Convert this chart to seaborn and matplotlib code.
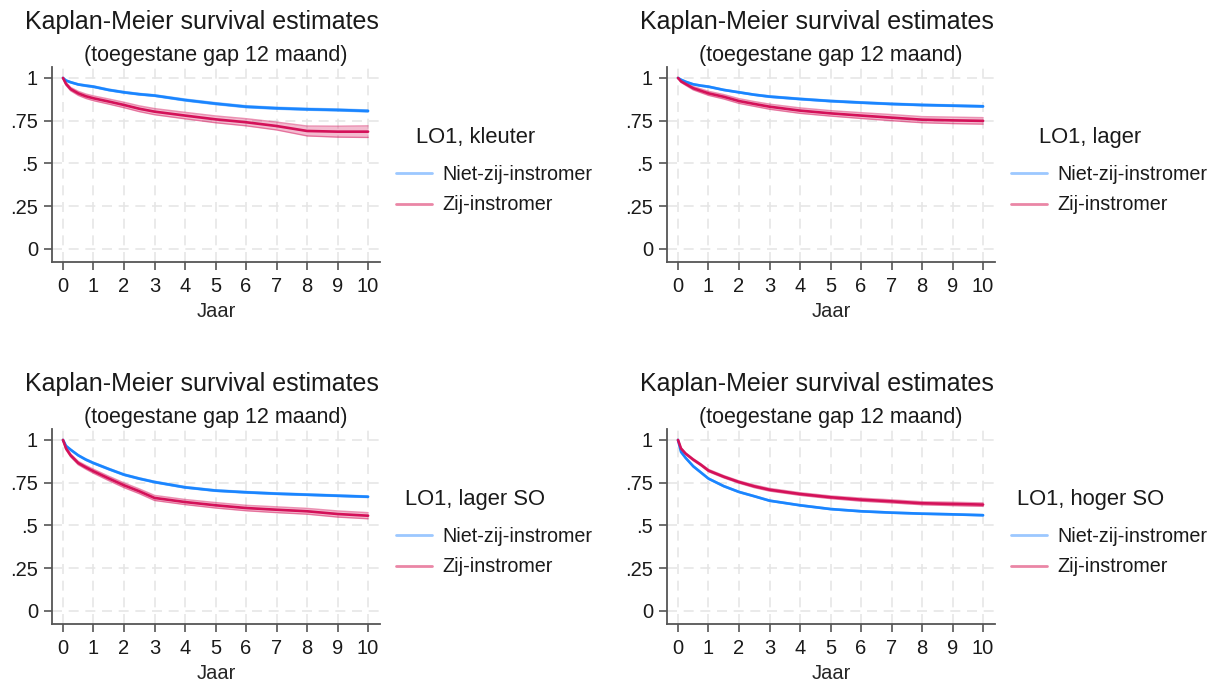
import numpy as np
import pandas as pd
import seaborn as sns
import matplotlib.pyplot as plt
from matplotlib.lines import Line2D

# Survival time grid (years)
years = [0, 0.1, 0.25, 0.5, 0.75, 1, 1.5, 2, 2.5, 3, 4, 5, 6, 7, 8, 9, 10]

groups = ["Niet-zij-instromer", "Zij-instromer"]
panel_titles = ["LO1, kleuter", "LO1, lager", "LO1, lager SO", "LO1, hoger SO"]

# Kaplan-Meier estimates per panel
kleuter_niet = [1, .985, .975, .962, .955, .949, .93, .916, .905, .897, .871, .85, .832, .823, .817, .813, .807]
kleuter_zij = [1, .965, .935, .91, .893, .881, .862, .842, .82, .803, .78, .758, .741, .719, .69, .686, .686]
lager_niet = [1, .99, .978, .963, .955, .949, .93, .916, .902, .891, .877, .865, .856, .848, .842, .838, .834]
lager_zij = [1, .98, .965, .94, .925, .91, .89, .865, .848, .832, .809, .793, .78, .768, .756, .752, .749]
lagerso_niet = [1, .965, .943, .91, .885, .865, .83, .797, .774, .754, .723, .704, .694, .686, .68, .674, .668]
lagerso_zij = [1, .95, .91, .865, .84, .817, .775, .735, .70, .661, .637, .618, .602, .592, .583, .567, .557]
hogerso_niet = [1, .93, .895, .846, .81, .774, .73, .696, .671, .645, .618, .596, .583, .575, .569, .565, .56]
hogerso_zij = [1, .95, .92, .885, .855, .821, .785, .754, .729, .709, .684, .665, .651, .641, .63, .626, .622]

# Half-widths of the 95% confidence bands
kleuter_niet_ci = [0, .003, .004, .004, .005, .005, .005, .005, .005, .005, .006, .006, .006, .006, .006, .006, .006]
kleuter_zij_ci = [0, .008, .010, .012, .013, .014, .015, .016, .017, .018, .019, .020, .021, .023, .029, .032, .034]
lager_niet_ci = [0, .002, .003, .003, .004, .004, .004, .004, .004, .005, .005, .005, .005, .005, .005, .005, .005]
lager_zij_ci = [0, .006, .008, .010, .011, .012, .013, .014, .014, .015, .016, .016, .017, .018, .018, .019, .019]
lagerso_niet_ci = [0, .003, .004, .004, .005, .005, .005, .005, .005, .005, .005, .005, .005, .005, .005, .005, .005]
lagerso_zij_ci = [0, .007, .009, .010, .011, .012, .013, .014, .014, .015, .015, .016, .016, .017, .017, .018, .018]
hogerso_niet_ci = [0, .003, .003, .004, .004, .004, .004, .004, .004, .004, .004, .004, .004, .004, .004, .004, .004]
hogerso_zij_ci = [0, .004, .005, .006, .006, .007, .007, .007, .008, .008, .008, .008, .009, .009, .009, .010, .010]

panels = [
    (kleuter_niet, kleuter_zij, kleuter_niet_ci, kleuter_zij_ci),
    (lager_niet, lager_zij, lager_niet_ci, lager_zij_ci),
    (lagerso_niet, lagerso_zij, lagerso_niet_ci, lagerso_zij_ci),
    (hogerso_niet, hogerso_zij, hogerso_niet_ci, hogerso_zij_ci),
]

x_ticks = list(range(0, 11))
y_ticks = [0, 0.25, 0.5, 0.75, 1]
y_ticklabels = ["0", ".25", ".5", ".75", "1"]

line_colors = {"Niet-zij-instromer": "#1A85FF", "Zij-instromer": "#D41159"}
key_colors = {"Niet-zij-instromer": "#9CC8FF", "Zij-instromer": "#EA86A6"}

sns.set_theme(style="white")
plt.rcParams["font.family"] = ["Liberation Sans", "DejaVu Sans"]
plt.rcParams["text.color"] = "#1a1a1a"

W, H = 1213, 684
fig = plt.figure(figsize=(W / 100, H / 100), dpi=100)

# axes boxes in pixels: left, top, right, bottom
boxes = [(52, 67, 380, 262), (667, 67, 995, 262),
         (52, 429, 380, 624), (667, 429, 995, 624)]

for (niet, zij, niet_ci, zij_ci), title, (l, t, r, b) in zip(panels, panel_titles, boxes):
    ax = fig.add_axes([l / W, 1 - b / H, (r - l) / W, (b - t) / H])

    df = pd.DataFrame({
        "Jaar": years * 2,
        "S": niet + zij,
        "ci": niet_ci + zij_ci,
        "groep": [groups[0]] * len(years) + [groups[1]] * len(years),
    })

    # confidence bands
    for g in groups:
        sub = df[df["groep"] == g]
        lo = sub["S"] - sub["ci"]
        hi = sub["S"] + sub["ci"]
        ax.fill_between(sub["Jaar"], lo, hi, color=line_colors[g], alpha=0.28, lw=0, zorder=2)
        ax.plot(sub["Jaar"], lo, color=line_colors[g], alpha=0.45, lw=1.0, zorder=2)
        ax.plot(sub["Jaar"], hi, color=line_colors[g], alpha=0.45, lw=1.0, zorder=2)

    sns.lineplot(data=df, x="Jaar", y="S", hue="groep", palette=line_colors,
                 hue_order=groups, linewidth=1.9, legend=False, ax=ax, zorder=3)

    ax.set_xlim(-0.36, 10.39)
    ax.set_ylim(-0.076, 1.064)
    ax.set_xticks(x_ticks)
    ax.set_yticks(y_ticks)
    ax.set_yticklabels(y_ticklabels)
    ax.set_xlabel("Jaar", fontsize=14.5, labelpad=4)
    ax.set_ylabel("")
    ax.tick_params(axis="both", which="both", direction="out", length=6, width=1.2,
                   color="#555555", labelsize=14.5, labelcolor="#1a1a1a", pad=4,
                   bottom=True, left=True)
    ax.tick_params(axis="x", pad=5)
    for side in ("top", "right"):
        ax.spines[side].set_visible(False)
    for side in ("left", "bottom"):
        ax.spines[side].set_color("#555555")
        ax.spines[side].set_linewidth(1.3)

    ax.grid(True, color="#e6e6e6", linestyle=(0, (6, 4)), linewidth=1.2, zorder=0)
    ax.set_axisbelow(True)

    ax.text(0.457, 1.232, "Kaplan-Meier survival estimates", transform=ax.transAxes,
            ha="center", va="center", fontsize=18)
    ax.text(0.5, 1.058, "(toegestane gap 12 maand)", transform=ax.transAxes,
            ha="center", va="center", fontsize=15.5)

    handles = [Line2D([0], [0], color=key_colors[g], lw=2.0) for g in groups]
    ax.legend(handles, groups, loc="upper left", bbox_to_anchor=(1.025, 0.54),
              frameon=False, fontsize=14.2, handlelength=1.8, handletextpad=0.55,
              labelspacing=0.6, borderaxespad=0)
    ax.text(1.29, 0.636, title, transform=ax.transAxes, ha="center", va="center",
            fontsize=15.8)

fig.savefig("out.png", dpi=100, facecolor="white")
